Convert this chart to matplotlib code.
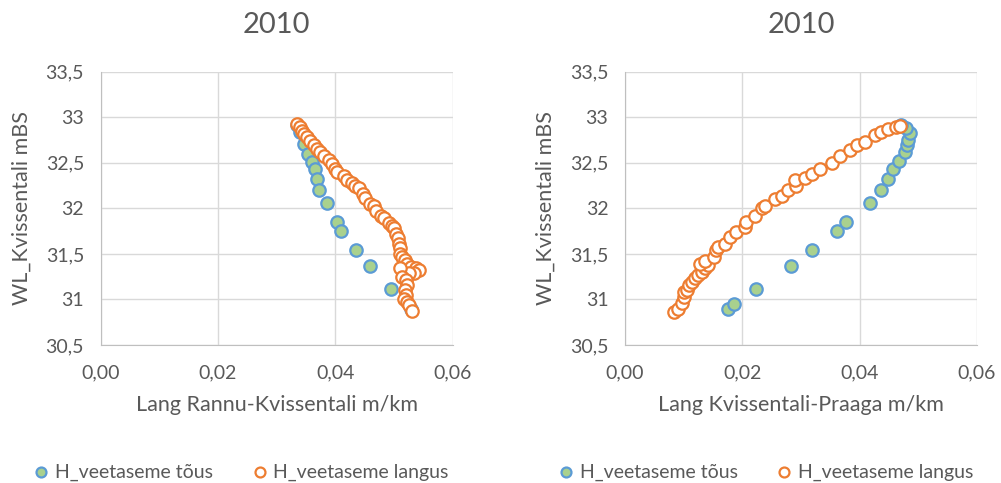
import matplotlib
matplotlib.use("Agg")
import matplotlib.pyplot as plt
from matplotlib.ticker import FuncFormatter, MultipleLocator

plt.rcParams['font.family'] = ['Lato', 'DejaVu Sans']

title = "2010"
yLabel = "WL_Kvissentali mBS"
xLabels = ["Lang Rannu-Kvissentali m/km", "Lang Kvissentali-Praaga m/km"]
seriesNames = ["H_veetaseme tõus", "H_veetaseme langus"]

# left chart - Rannu-Kvissentali
leftRiseX = [0.0334, 0.0339, 0.0346, 0.0354, 0.0360, 0.0365, 0.0369, 0.0373, 0.0385,
             0.0402, 0.0409, 0.0435, 0.0459, 0.0495, 0.0529]
leftRiseY = [32.91, 32.84, 32.71, 32.60, 32.51, 32.43, 32.32, 32.20, 32.06,
             31.85, 31.75, 31.54, 31.37, 31.11, 30.90]
leftFallX = [0.0335, 0.0340, 0.0343, 0.0347, 0.0351, 0.0357, 0.0363, 0.0369, 0.0374,
             0.0381, 0.0389, 0.0394, 0.0400, 0.0403, 0.0415, 0.0420, 0.0429, 0.0433,
             0.0440, 0.0447, 0.0451, 0.0459, 0.0466, 0.0470, 0.0477, 0.0483, 0.0491,
             0.0497, 0.0500, 0.0503, 0.0506, 0.0509, 0.0510, 0.0511, 0.0514, 0.0518,
             0.0523, 0.0529, 0.0537, 0.0543, 0.0534, 0.0526, 0.0511, 0.0514, 0.0520,
             0.0523, 0.0518, 0.0520, 0.0517, 0.0523, 0.0526, 0.0530]
leftFallY = [32.92, 32.89, 32.85, 32.82, 32.78, 32.74, 32.70, 32.65, 32.62,
             32.57, 32.53, 32.49, 32.43, 32.40, 32.35, 32.31, 32.28, 32.24,
             32.22, 32.16, 32.11, 32.05, 32.02, 31.97, 31.92, 31.89, 31.84,
             31.81, 31.78, 31.72, 31.67, 31.61, 31.56, 31.50, 31.47, 31.43,
             31.39, 31.36, 31.34, 31.32, 31.29, 31.29, 31.34, 31.25, 31.21,
             31.16, 31.10, 31.05, 31.01, 30.97, 30.94, 30.87]

# right chart - Kvissentali-Praaga
rightRiseX = [0.0175, 0.0186, 0.0224, 0.0283, 0.0319, 0.0361, 0.0376, 0.0417, 0.0436,
              0.0448, 0.0457, 0.0467, 0.0478, 0.0481, 0.0482, 0.0485, 0.0479, 0.0471]
rightRiseY = [30.89, 30.95, 31.11, 31.37, 31.54, 31.75, 31.85, 32.06, 32.20,
              32.32, 32.43, 32.52, 32.62, 32.69, 32.75, 32.83, 32.88, 32.91]
rightFallX = [0.0083, 0.0091, 0.0097, 0.0101, 0.0100, 0.0105, 0.0109, 0.0114, 0.0120,
              0.0125, 0.0131, 0.0137, 0.0142, 0.0128, 0.0137, 0.0151, 0.0155, 0.0159,
              0.0171, 0.0179, 0.0190, 0.0205, 0.0207, 0.0222, 0.0233, 0.0239, 0.0256,
              0.0267, 0.0278, 0.0292, 0.0290, 0.0307, 0.0318, 0.0332, 0.0352, 0.0366,
              0.0383, 0.0396, 0.0409, 0.0426, 0.0437, 0.0448, 0.0462, 0.0468]
rightFallY = [30.86, 30.90, 30.96, 31.03, 31.08, 31.10, 31.16, 31.19, 31.23,
              31.27, 31.30, 31.34, 31.38, 31.39, 31.42, 31.47, 31.54, 31.58,
              31.61, 31.68, 31.74, 31.80, 31.85, 31.92, 32.00, 32.03, 32.10,
              32.14, 32.20, 32.25, 32.31, 32.33, 32.38, 32.43, 32.50, 32.57,
              32.64, 32.70, 32.73, 32.80, 32.84, 32.87, 32.89, 32.90]

textColor = "#595959"
gridColor = "#d9d9d9"


def commaFormat(decimals):
    def fmt(v, pos):
        if decimals is None:
            s = ("%.1f" % v).rstrip("0").rstrip(".")
        else:
            s = "%.*f" % (decimals, v)
        return s.replace(".", ",")
    return FuncFormatter(fmt)


fig = plt.figure(figsize=(10.01, 4.83), dpi=100)
ax1 = fig.add_axes([0.1006, 0.2857, 0.3516, 0.566])
ax2 = fig.add_axes([0.6244, 0.2857, 0.3516, 0.566])

data = [(ax1, leftRiseX, leftRiseY, leftFallX, leftFallY, xLabels[0]),
        (ax2, rightRiseX, rightRiseY, rightFallX, rightFallY, xLabels[1])]

for ax, rx, ry, fx, fy, xl in data:
    ax.scatter(rx, ry, s=80, facecolor="#a9d18e", edgecolor="#5b9bd5", linewidth=1.6,
               label=seriesNames[0], zorder=3)
    ax.scatter(fx, fy, s=80, facecolor="white", edgecolor="#ed7d31", linewidth=1.6,
               label=seriesNames[1], zorder=4)
    ax.set_xlim(0, 0.06)
    ax.set_ylim(30.5, 33.5)
    ax.xaxis.set_major_locator(MultipleLocator(0.02))
    ax.yaxis.set_major_locator(MultipleLocator(0.5))
    ax.xaxis.set_major_formatter(commaFormat(2))
    ax.yaxis.set_major_formatter(commaFormat(None))
    ax.grid(True, color=gridColor, linewidth=1.0, zorder=0)
    ax.set_axisbelow(True)
    for side in ["top", "right"]:
        ax.spines[side].set_visible(False)
    for side in ["left", "bottom"]:
        ax.spines[side].set_color("#bfbfbf")
    ax.tick_params(length=0, labelsize=14, labelcolor=textColor)
    ax.tick_params(axis="x", pad=14)
    ax.tick_params(axis="y", pad=12)
    ax.set_xlabel(xl, fontsize=15.5, color=textColor, labelpad=10)
    ax.set_ylabel(yLabel, fontsize=15.5, color=textColor, labelpad=10)
    ax.set_title(title, fontsize=21, color=textColor, pad=28)

ax1.legend(loc="center", bbox_to_anchor=(0.241, 0.023), bbox_transform=fig.transFigure,
           ncol=2, frameon=False, fontsize=14, labelcolor=textColor, columnspacing=2.0,
           handlelength=0.8, handletextpad=0.3, markerscale=0.8)
ax2.legend(loc="center", bbox_to_anchor=(0.765, 0.023), bbox_transform=fig.transFigure,
           ncol=2, frameon=False, fontsize=14, labelcolor=textColor, columnspacing=2.0,
           handlelength=0.8, handletextpad=0.3, markerscale=0.8)

fig.savefig("out.png", dpi=100)
